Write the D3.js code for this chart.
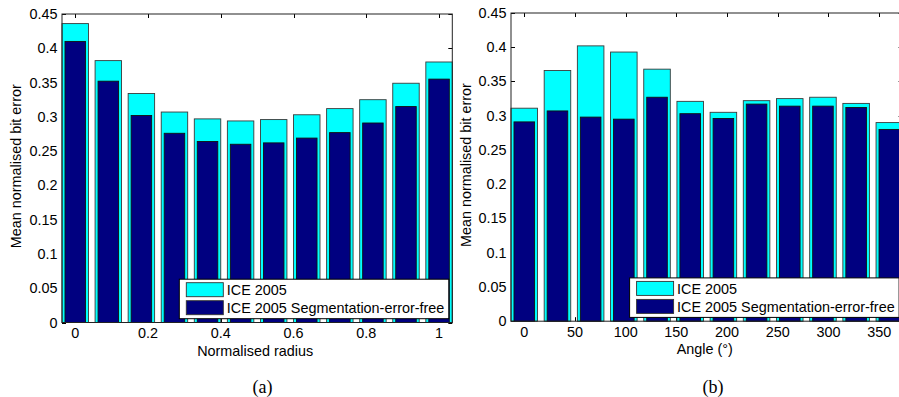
<!DOCTYPE html>
<html>
<head>
<meta charset="utf-8">
<script src="https://cdn.jsdelivr.net/npm/d3@7"></script>
<style>
	body { margin: 0; background: #ffffff; }
	svg text { font-family: 'Liberation Sans', Arial, sans-serif; fill: #000000; }
</style>
</head>
<body>
<div id="chart"></div>
<script>
// bin centres (12 bins each)
var radiusBins = [0, 0.0909, 0.1818, 0.2727, 0.3636, 0.4545, 0.5455, 0.6364, 0.7273, 0.8182, 0.9091, 1];
var radiusIce = [0.436, 0.382, 0.334, 0.307, 0.297, 0.294, 0.296, 0.303, 0.312, 0.325, 0.349, 0.380];
var radiusSegFree = [0.410, 0.352, 0.302, 0.276, 0.264, 0.260, 0.262, 0.269, 0.277, 0.291, 0.315, 0.355];

var angleBins = [0, 32.73, 65.45, 98.18, 130.91, 163.64, 196.36, 229.09, 261.82, 294.55, 327.27, 360];
var angleIce = [0.311, 0.366, 0.402, 0.393, 0.368, 0.321, 0.305, 0.322, 0.325, 0.327, 0.318, 0.290];
var angleSegFree = [0.291, 0.307, 0.298, 0.295, 0.327, 0.303, 0.296, 0.317, 0.314, 0.314, 0.312, 0.280];

var radiusTicks = [0, 0.2, 0.4, 0.6, 0.8, 1];
var angleTicks = [0, 50, 100, 150, 200, 250, 300, 350];
var errorTicks = [0, 0.05, 0.1, 0.15, 0.2, 0.25, 0.3, 0.35, 0.4, 0.45];

var seriesNames = ['ICE 2005', 'ICE 2005 Segmentation-error-free'];
var seriesColors = ['#00ffff', '#000080'];
var yLabel = 'Mean normalised bit error';

const WIDTH = 899;
const HEIGHT = 397;
const FONT = 14.4;
const TICK = 4;

var svg = d3.select('#chart').append('svg')
	.attr('width', WIDTH)
	.attr('height', HEIGHT);

drawPanel({
	left: 62, right: 452.3, top: 14, bottom: 322.5,
	xDomain: [-0.0364, 1.0364],
	bins: radiusBins, ice: radiusIce, segFree: radiusSegFree,
	xTicks: radiusTicks, xLabel: 'Normalised radius',
	yLabelX: 20.5, caption: '(a)', captionX: 262.5
});

drawPanel({
	left: 511, right: 902.6, top: 13, bottom: 321.2,
	xDomain: [-13.09, 373.09],
	bins: angleBins, ice: angleIce, segFree: angleSegFree,
	xTicks: angleTicks, xLabel: 'Angle (\u00b0)',
	yLabelX: 470.5, caption: '(b)', captionX: 713
});

function drawPanel (p) {
	var x = d3.scaleLinear().domain(p.xDomain).range([p.left, p.right]);
	var y = d3.scaleLinear().domain([0, 0.45]).range([p.bottom, p.top]);
	var step = p.bins[1] - p.bins[0];
	var g = svg.append('g');

	// tick marks sit under the bars (matlab default layer)
	var ticks = g.append('g').attr('stroke', '#000').attr('stroke-width', 1);
	p.xTicks.forEach(function (t) {
		var xx = Math.round(x(t)) + 0.5;
		ticks.append('line').attr('x1', xx).attr('x2', xx).attr('y1', p.bottom).attr('y2', p.bottom - TICK);
		ticks.append('line').attr('x1', xx).attr('x2', xx).attr('y1', p.top).attr('y2', p.top + TICK);
	});
	errorTicks.forEach(function (t) {
		var yy = Math.round(y(t)) + 0.5;
		ticks.append('line').attr('x1', p.left).attr('x2', p.left + TICK).attr('y1', yy).attr('y2', yy);
		ticks.append('line').attr('x1', p.right).attr('x2', p.right - TICK).attr('y1', yy).attr('y2', yy);
	});

	drawBars(g, p.bins, p.ice, 0.8 * step, seriesColors[0], '#3a3a3a');
	drawBars(g, p.bins, p.segFree, 0.62 * step, seriesColors[1], '#111');

	function drawBars (parent, bins, values, w, color, edge) {
		parent.append('g').selectAll('rect').data(values).enter()
			.append('rect')
			.attr('x', function (d, i) { return x(bins[i] - w / 2); })
			.attr('y', function (d) { return y(d); })
			.attr('width', x(w) - x(0))
			.attr('height', function (d) { return y(0) - y(d); })
			.attr('fill', color)
			.attr('stroke', edge)
			.attr('stroke-width', 0.9);
	}

	// axes box
	g.append('rect')
		.attr('x', p.left).attr('y', p.top)
		.attr('width', p.right - p.left).attr('height', p.bottom - p.top)
		.attr('fill', 'none').attr('stroke', '#222').attr('stroke-width', 1);

	// tick labels
	g.append('g').selectAll('text').data(p.xTicks).enter()
		.append('text')
		.attr('x', function (d) { return x(d); })
		.attr('y', p.bottom + 15.8)
		.attr('text-anchor', 'middle')
		.style('font-size', FONT + 'px')
		.text(function (d) { return d; });

	g.append('g').selectAll('text').data(errorTicks).enter()
		.append('text')
		.attr('x', p.left - 4.5)
		.attr('y', function (d) { return y(d) + 5; })
		.attr('text-anchor', 'end')
		.style('font-size', FONT + 'px')
		.text(function (d) { return d; });

	g.append('text')
		.attr('x', (p.left + p.right) / 2 - 2)
		.attr('y', p.bottom + 33)
		.attr('text-anchor', 'middle')
		.style('font-size', FONT + 'px')
		.text(p.xLabel);

	g.append('text')
		.attr('transform', 'translate(' + p.yLabelX + ',' + ((p.top + p.bottom) / 2 - 2) + ') rotate(-90)')
		.attr('text-anchor', 'middle')
		.style('font-size', FONT + 'px')
		.text(yLabel);

	// legend, lower right inside the axes
	var lw = 269.5, lh = 39.5;
	var lx = p.right - 3.5 - lw, ly = p.bottom - 3.8 - lh;
	var legend = g.append('g').attr('transform', 'translate(' + lx + ',' + ly + ')');
	legend.append('rect')
		.attr('width', lw).attr('height', lh)
		.attr('fill', '#fff').attr('stroke', '#000').attr('stroke-width', 1);
	seriesNames.forEach(function (name, i) {
		legend.append('rect')
			.attr('x', 7).attr('y', 3.5 + i * 18)
			.attr('width', 37).attr('height', 14)
			.attr('fill', seriesColors[i]).attr('stroke', '#333').attr('stroke-width', 0.9);
		legend.append('text')
			.attr('x', 47.5).attr('y', 16 + i * 18.3)
			.style('font-size', FONT + 'px')
			.text(name);
	});

	svg.append('text')
		.attr('x', p.captionX)
		.attr('y', 392.5)
		.attr('text-anchor', 'middle')
		.style('font-family', "'Liberation Serif', 'DejaVu Serif', serif")
		.style('font-size', '18px')
		.text(p.caption);
}
</script>
</body>
</html>
